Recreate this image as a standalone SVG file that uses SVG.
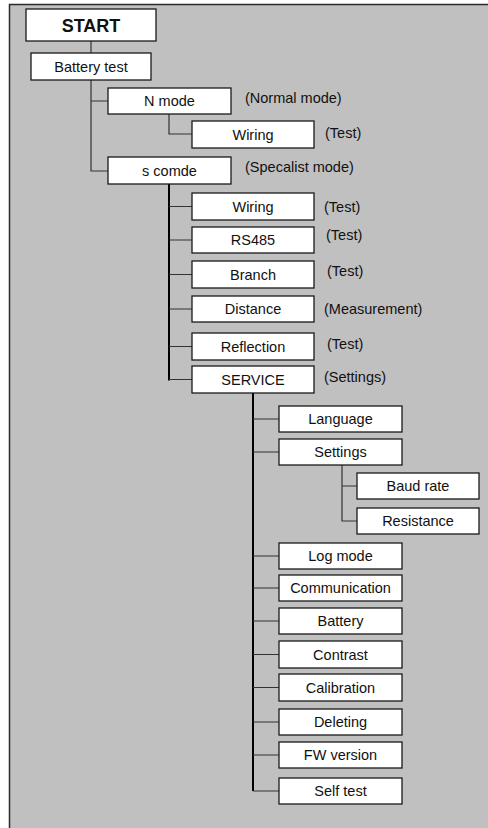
<svg xmlns="http://www.w3.org/2000/svg" width="488" height="828" viewBox="0 0 488 828">
  <style>
    .box { fill: #ffffff; stroke: #1a1a1a; stroke-width: 1.3; }
    .t { font-family: "Liberation Sans", Arial, sans-serif; font-size: 14.5px; fill: #111; text-anchor: middle; }
    .note { font-family: "Liberation Sans", Arial, sans-serif; font-size: 14.5px; fill: #111; }
    .bold { font-weight: bold; font-size: 18px; }
    .thin { stroke: #333; stroke-width: 1.2; fill: none; }
    .thick { stroke: #000; stroke-width: 2; fill: none; }
  </style>

  <!-- panel -->
  <rect x="9.5" y="4.5" width="500" height="840" fill="#c0c0c0" stroke="#2a2a2a" stroke-width="1.5"/>

  <!-- connectors -->
  <g id="connectors">
    <path class="thin" d="M91 41V53"/>
    <path class="thin" d="M91 80V171H108M91 101H108"/>
    <path class="thin" d="M169 114V134H192"/>
    <path class="thick" d="M169 184V380.5"/>
    <path class="thin" d="M169 206.5H192M169 240H192M169 274.5H192M169 309H192M169 346.5H192M169 379.5H192"/>
    <path class="thick" d="M253 393V791"/>
    <path class="thin" d="M253 419H279M253 452H279M253 556H279M253 588H279M253 621H279M253 654.5H279M253 687.5H279M253 722H279M253 755H279M253 791H279"/>
    <path class="thin" d="M342 465V521H357M342 486H357"/>
  </g>

  <g id="start"><rect class="box" x="26" y="9" width="130" height="32"/><text class="t bold" x="91" y="31.5">START</text></g>
  <g id="battery-test"><rect class="box" x="31" y="53" width="120" height="27"/><text class="t" x="91" y="71.5">Battery test</text></g>

  <g id="n-mode"><rect class="box" x="108" y="88" width="123" height="26"/><text class="t" x="169.5" y="106">N mode</text><text class="note" x="245" y="103">(Normal mode)</text></g>
  <g id="n-wiring"><rect class="box" x="192" y="121" width="122" height="27"/><text class="t" x="253" y="139.5">Wiring</text><text class="note" x="325" y="138">(Test)</text></g>

  <g id="s-comde"><rect class="box" x="108" y="157" width="123" height="27"/><text class="t" x="169.5" y="175.5">s comde</text><text class="note" x="245" y="172">(Specalist mode)</text></g>

  <g id="s-wiring"><rect class="box" x="192" y="193" width="122" height="27"/><text class="t" x="253" y="211.5">Wiring</text><text class="note" x="324" y="212">(Test)</text></g>
  <g id="rs485"><rect class="box" x="192" y="227" width="122" height="26"/><text class="t" x="253" y="245">RS485</text><text class="note" x="326" y="240">(Test)</text></g>
  <g id="branch"><rect class="box" x="192" y="261" width="122" height="27"/><text class="t" x="253" y="279.5">Branch</text><text class="note" x="327" y="276">(Test)</text></g>
  <g id="distance"><rect class="box" x="192" y="296" width="122" height="26"/><text class="t" x="253" y="314">Distance</text><text class="note" x="324" y="314">(Measurement)</text></g>
  <g id="reflection"><rect class="box" x="192" y="333" width="122" height="27"/><text class="t" x="253" y="351.5">Reflection</text><text class="note" x="327" y="349">(Test)</text></g>
  <g id="service"><rect class="box" x="192" y="366" width="122" height="27"/><text class="t" x="253" y="384.5">SERVICE</text><text class="note" x="324" y="382">(Settings)</text></g>

  <g id="language"><rect class="box" x="279" y="406" width="123" height="26"/><text class="t" x="340.5" y="424">Language</text></g>
  <g id="settings"><rect class="box" x="279" y="439" width="123" height="26"/><text class="t" x="340.5" y="457">Settings</text></g>
  <g id="baud-rate"><rect class="box" x="357" y="473" width="122" height="26"/><text class="t" x="418" y="491">Baud rate</text></g>
  <g id="resistance"><rect class="box" x="357" y="508" width="122" height="26"/><text class="t" x="418" y="526">Resistance</text></g>
  <g id="log-mode"><rect class="box" x="279" y="543" width="123" height="26"/><text class="t" x="340.5" y="561">Log mode</text></g>
  <g id="communication"><rect class="box" x="279" y="575" width="123" height="26"/><text class="t" x="340.5" y="593">Communication</text></g>
  <g id="battery"><rect class="box" x="279" y="608" width="123" height="26"/><text class="t" x="340.5" y="626">Battery</text></g>
  <g id="contrast"><rect class="box" x="279" y="641" width="123" height="27"/><text class="t" x="340.5" y="659.5">Contrast</text></g>
  <g id="calibration"><rect class="box" x="279" y="674" width="123" height="27"/><text class="t" x="340.5" y="692.5">Calibration</text></g>
  <g id="deleting"><rect class="box" x="279" y="709" width="123" height="26"/><text class="t" x="340.5" y="727">Deleting</text></g>
  <g id="fw-version"><rect class="box" x="279" y="742" width="123" height="26"/><text class="t" x="340.5" y="760">FW version</text></g>
  <g id="self-test"><rect class="box" x="279" y="778" width="123" height="26"/><text class="t" x="340.5" y="796">Self test</text></g>
</svg>
